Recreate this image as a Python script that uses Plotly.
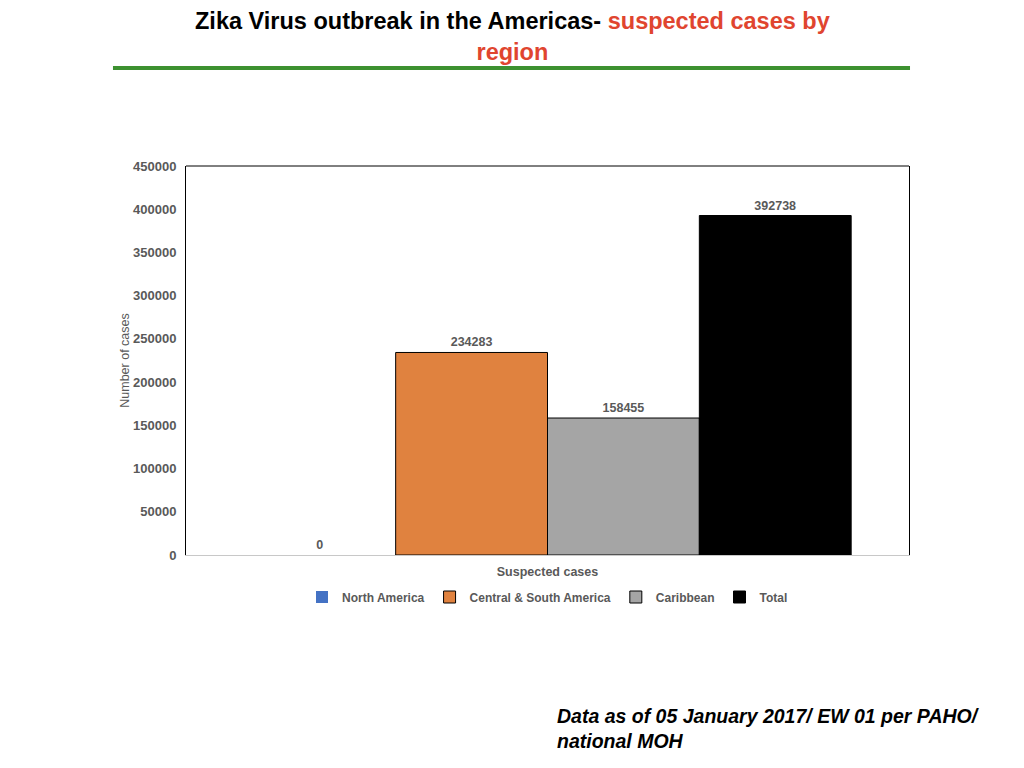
import plotly.graph_objects as go

# data
category = ["Suspected cases"]
regions = ["North America", "Central & South America", "Caribbean", "Total"]
cases = [0, 234283, 158455, 392738]
colors = ["#4472c4", "#e0823f", "#a5a5a5", "#000000"]

grey = "#595959"
font = "Liberation Sans"

# page body has an 8px margin, so the figure is a bit smaller than the window
W, H = 1008, 752
L, T, PW, PH = 178, 158, 723, 389

fig = go.Figure()

for name, val, col in zip(regions, cases, colors):
    fig.add_trace(go.Bar(x=category, y=[val], name="<b>" + name + "</b>",
                         marker=dict(color=col, line=dict(color="black", width=1 if val > 0 else 0)),
                         text=["<b>" + str(val) + "</b>"], textposition="outside", cliponaxis=False,
                         textfont=dict(family=font, size=12.5, color=grey)))

fig.update_layout(
    width=W, height=H,
    paper_bgcolor="white", plot_bgcolor="white",
    margin=dict(l=L, r=W - L - PW, t=T, b=H - T - PH),
    barmode="group", bargap=0.16, bargroupgap=0,
    font=dict(family=font, color=grey, size=11),
    xaxis=dict(range=[-0.5, 0.5], showline=True, linecolor="#c8c8c8",
               ticks="", showticklabels=False,
               title=dict(text="<b>Suspected cases</b>", standoff=12,
                          font=dict(size=12.5, color=grey))),
    yaxis=dict(range=[0, 450000], dtick=50000, tickformat="d", showgrid=False, zeroline=False,
               showline=True, linecolor="black", mirror=True, ticklen=0, ticklabelstandoff=6,
               tickfont=dict(size=13, color=grey), tickprefix="<b>", ticksuffix="</b>",
               title=dict(text="Number of cases", standoff=0,
                          font=dict(size=12.5, color=grey))),
    legend=dict(orientation="h", x=0.5, xanchor="center", y=-0.108, yanchor="middle",
                font=dict(size=12, color=grey), itemwidth=30, traceorder="normal"),
    showlegend=True,
)

# top border of the plot area
fig.add_shape(type="line", xref="paper", yref="paper", x0=0, x1=1, y0=1, y1=1,
              line=dict(color="black", width=1))

# green rule under the title
fig.add_shape(type="line", xref="paper", yref="paper", x0=-0.101, x1=1.0014,
              y0=1.252, y1=1.252, line=dict(color="#3d9130", width=4))

title = ("<b>Zika Virus outbreak in the Americas- "
         "<span style='color:#e0452f'>suspected cases by</span><br>"
         "<span style='color:#e0452f'>region</span></b>")
fig.add_annotation(text=title, xref="paper", yref="paper",
                   x=(504 - L) / PW, y=1 + (T - 29) / PH,
                   xanchor="center", yanchor="middle", align="center", showarrow=False,
                   font=dict(family=font, size=23.5, color="black"))

fig.add_annotation(text="<b><i>Data as of 05 January 2017/ EW 01 per PAHO/<br>national MOH</i></b>",
                   xref="paper", yref="paper", x=(547 - L) / PW, y=-(695 - T - PH) / PH,
                   xanchor="left", yanchor="top", align="left", showarrow=False,
                   font=dict(family=font, size=19.5, color="black"))

fig.write_html("out.html")
